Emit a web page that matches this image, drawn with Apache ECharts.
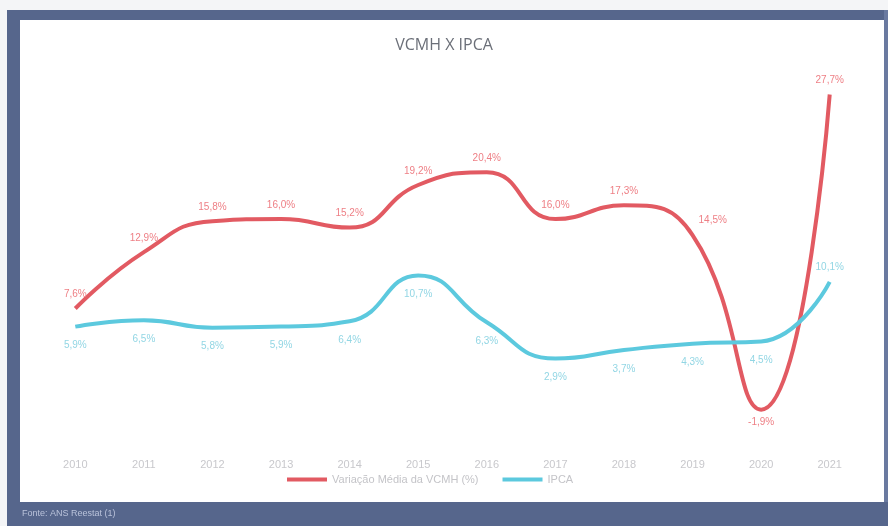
<!DOCTYPE html>
<html><head><meta charset="utf-8">
<script src="https://cdn.jsdelivr.net/npm/echarts@6/dist/echarts.min.js"></script>
<style>html,body{margin:0;padding:0;background:#f4f5f7;}#c{width:888px;height:526px;}</style>
</head><body><div id="c"></div>
<script>
const years = ['2010','2011','2012','2013','2014','2015','2016','2017','2018','2019','2020','2021'];
const vcmh = [7.6, 12.9, 15.8, 16.0, 15.2, 19.2, 20.4, 16.0, 17.3, 14.5, -1.9, 27.7];
const ipca = [5.9, 6.5, 5.8, 5.9, 6.4, 10.7, 6.3, 2.9, 3.7, 4.3, 4.5, 10.1];
const seriesNames = ['Variação Média da VCMH (%)', 'IPCA'];
const fmt = v => v.toFixed(1).replace('.', ',') + '%';

const vcmhData = vcmh.map((v, i) => {
  if (i === 10) return {value: v, label: {position: 'bottom', distance: 8}};
  if (i === 9) return {value: v, label: {position: [6, -20]}};
  return {value: v};
});
const ipcaData = ipca.map((v, i) => i === 11 ? {value: v, label: {position: 'top', distance: 10}} : {value: v});

const chart = echarts.init(document.getElementById('c'));
chart.setOption({
  backgroundColor: '#f4f5f7',
  animation: false,
  title: {text: 'VCMH X IPCA', left: 'center', top: 32,
    textStyle: {color: '#6b6f78', fontSize: 16, fontWeight: 'normal', fontFamily: 'Open Sans'}},
  legend: {bottom: 36, left: 282, itemWidth: 40, itemHeight: 4, itemGap: 24, icon: 'rect',
    textStyle: {color: '#c4c4c8', fontSize: 11}, data: seriesNames},
  grid: {left: 41, right: 24, top: 70, bottom: 94},
  xAxis: {type: 'category', data: years, boundaryGap: true,
    axisLine: {show: false}, axisTick: {show: false},
    axisLabel: {color: '#c8c8cc', fontSize: 11, margin: 27}},
  yAxis: {type: 'value', min: -4, max: 30, show: false, splitLine: {show: false}},
  graphic: [
    {type: 'rect', shape: {x: 14, y: 14, width: 870, height: 490}, style: {fill: '#ffffff'}, z: -10},
    {type: 'rect', shape: {x: 7, y: 10, width: 881, height: 10}, style: {fill: '#56668c'}, z: -5},
    {type: 'rect', shape: {x: 7, y: 10, width: 13, height: 516}, style: {fill: '#56668c'}, z: -5},
    {type: 'rect', shape: {x: 884, y: 10, width: 4, height: 516}, style: {fill: '#6a7aa0'}, z: -5},
    {type: 'rect', shape: {x: 7, y: 502, width: 881, height: 24}, style: {fill: '#56668c'}, z: -5},
    {type: 'text', left: 22, top: 509, style: {text: 'Fonte: ANS Reestat (1)', fill: '#b9c2da', fontSize: 9}}
  ],
  series: [
    {name: seriesNames[0], type: 'line', data: vcmhData, smooth: true,
      symbol: 'circle', symbolSize: 0.01, showSymbol: true, color: '#e25a62',
      lineStyle: {width: 4, color: '#e25a62'},
      label: {show: true, position: 'top', distance: 9, color: '#ee7f85', fontSize: 10, formatter: p => fmt(p.value)},
      labelLayout: {hideOverlap: false}},
    {name: seriesNames[1], type: 'line', data: ipcaData, smooth: true,
      symbol: 'circle', symbolSize: 0.01, showSymbol: true, color: '#5cc9de',
      lineStyle: {width: 4, color: '#5cc9de'},
      label: {show: true, position: 'bottom', distance: 14, color: '#92d6e4', fontSize: 10, formatter: p => fmt(p.value)},
      labelLayout: {hideOverlap: false}}
  ]
});
</script></body></html>
